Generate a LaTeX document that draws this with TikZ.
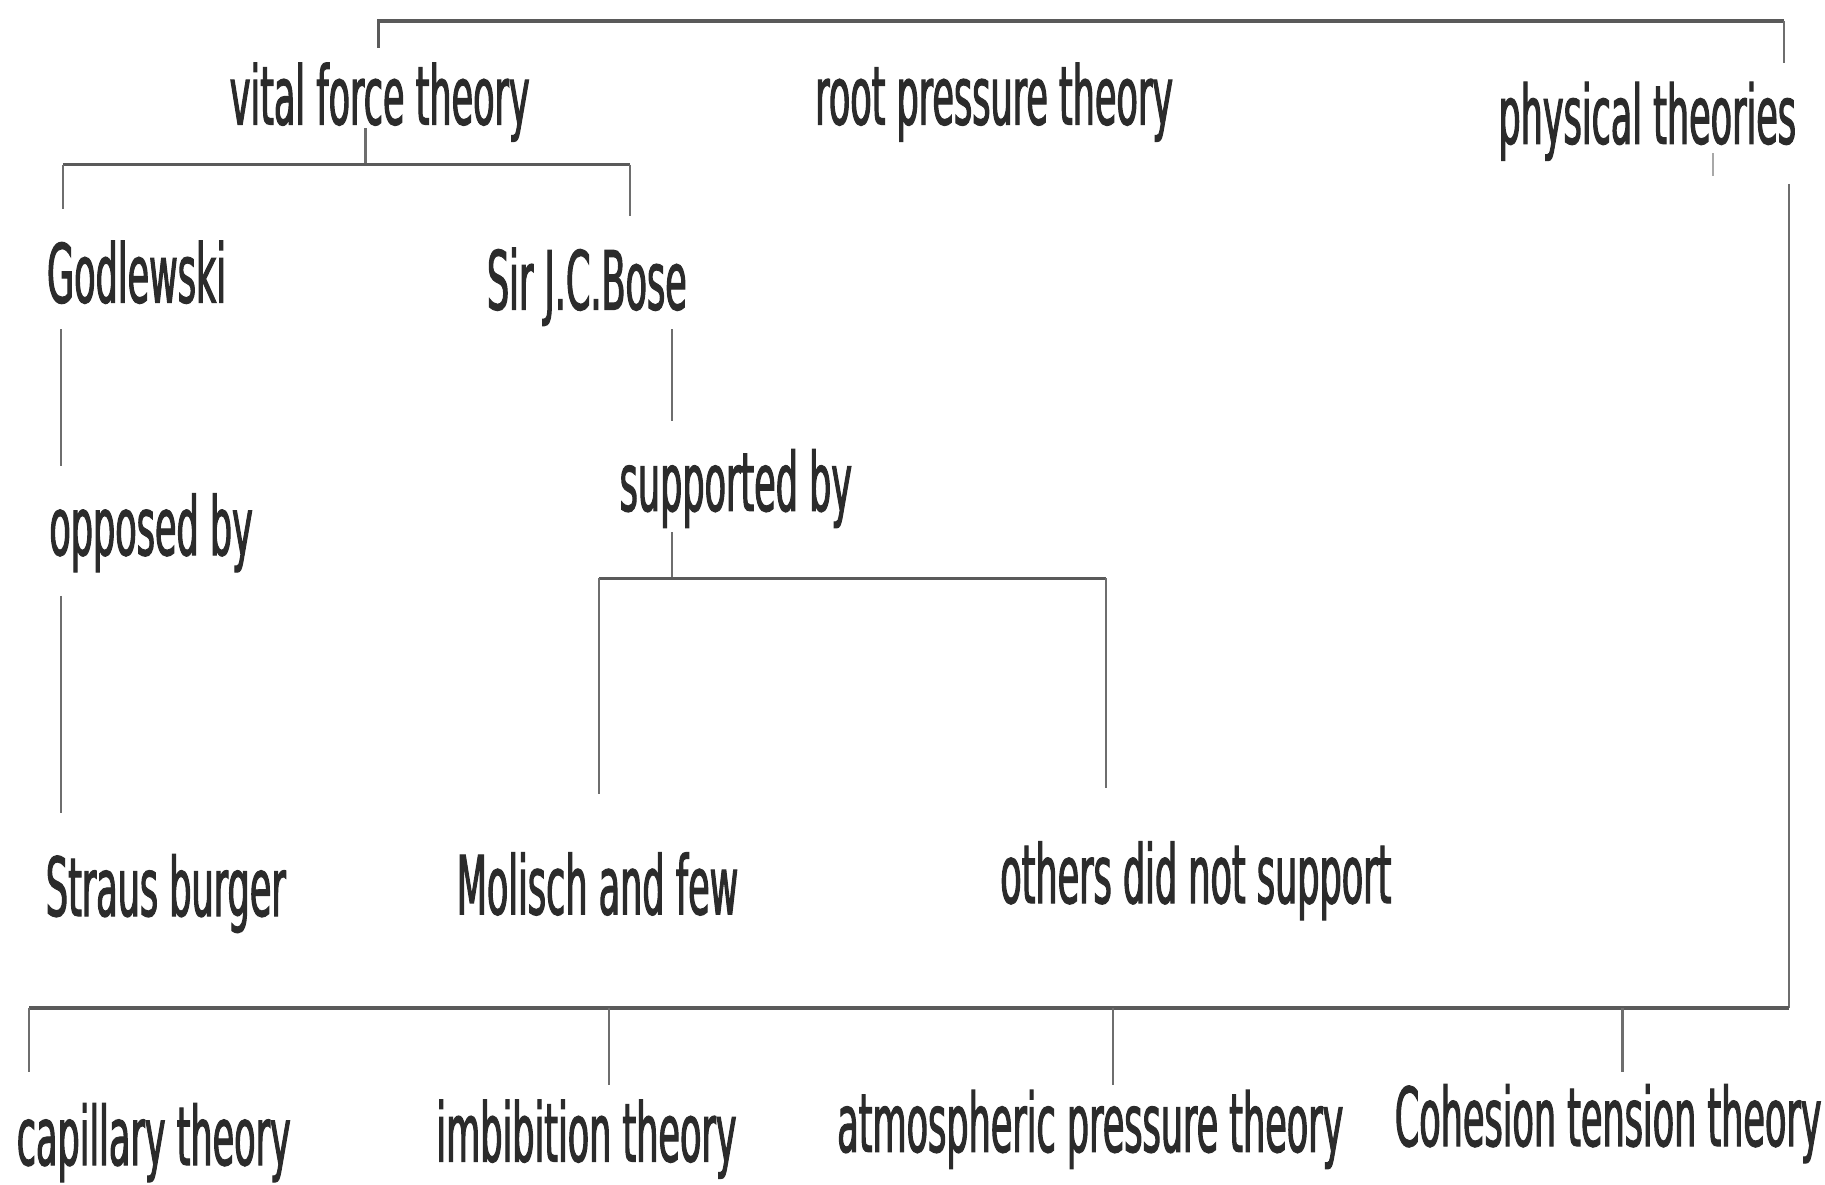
\documentclass[tikz,border=0pt]{standalone}
\usepackage{fontspec}
\newfontfamily\diafont{DejaVu Sans}[FakeStretch=0.43,FakeBold=1.3]
\definecolor{txtcol}{HTML}{2B2B2B}
\definecolor{linecol}{HTML}{5A5A5A}
\definecolor{thincol}{HTML}{6E6E6E}
\begin{document}
\begin{tikzpicture}[x=0.5pt,y=-0.5pt,
  lbl/.style={anchor=base west,inner sep=0pt,text=txtcol,
    font=\diafont\fontsize{35}{40}\selectfont},
  mainline/.style={draw=linecol,line width=1.4pt},
  subline/.style={draw=thincol,line width=0.9pt},
  faint/.style={draw=thincol!60,line width=0.6pt}]
\useasboundingbox[fill=white] (0,0) rectangle (1568,1018);

% text nodes
\node[lbl] (vft) at (197,107) {vital force theory};
\node[lbl] (rpt) at (700,107) {root pressure theory};
\node[lbl] (pht) at (1287,123.5) {physical theories};
\node[lbl] (god) at (40,260) {Godlewski};
\node[lbl] (bose) at (418,266) {Sir J.C.Bose};
\node[lbl] (opp) at (42,477) {opposed by};
\node[lbl] (sup) at (532,439) {supported by};
\node[lbl] (str) at (39,787) {Straus burger};
\node[lbl] (mol) at (392,785.6) {Molisch and few};
\node[lbl] (oth) at (859,776) {others did not support};
\node[lbl] (cap) at (14,1001) {capillary theory};
\node[lbl] (imb) at (374.6,998) {imbibition theory};
\node[lbl] (atm) at (719,989.7) {atmospheric pressure theory};
\node[lbl] (coh) at (1198,984.7) {Cohesion tension theory};

% connector end points
\coordinate (vftUp) at (325,41);
\coordinate (topL) at (325,18);
\coordinate (topR) at (1533,18);
\coordinate (phtUp) at (1533,54);
\coordinate (phtTickA) at (1471.6,131.6);
\coordinate (phtTickB) at (1471.6,151.5);
\coordinate (phtDown) at (1537,158);
\coordinate (botR) at (1537,866);
\coordinate (botL) at (25,866);
\coordinate (capUp) at (25,920.6);
\coordinate (imbJ) at (523,866);
\coordinate (imbUp) at (523,932);
\coordinate (atmJ) at (956,866);
\coordinate (atmUp) at (956,932);
\coordinate (cohJ) at (1394,866);
\coordinate (cohUp) at (1394,920.6);

\coordinate (vftDown) at (314,110);
\coordinate (vftJ) at (314,141.5);
\coordinate (godJ) at (54,141.5);
\coordinate (godUp) at (54,179.5);
\coordinate (boseJ) at (541,141.5);
\coordinate (boseUp) at (541,186);

\coordinate (godDown) at (52.4,283);
\coordinate (oppUp) at (52.4,400);
\coordinate (oppDown) at (52.4,512);
\coordinate (strUp) at (52.4,698.5);

\coordinate (boseDown) at (577,283);
\coordinate (supUp) at (577,362);
\coordinate (supDown) at (577,457.5);
\coordinate (supJ) at (577,497);
\coordinate (molJ) at (515,497);
\coordinate (molUp) at (515,682);
\coordinate (othJ) at (950,497);
\coordinate (othUp) at (950,677);

% connectors
\draw[mainline] (vftUp) -- (topL) -- (topR);
\draw[subline] (topR) -- (phtUp);
\draw[faint] (phtTickA) -- (phtTickB);
\draw[subline] (phtDown) -- (botR);
\draw[mainline] (botR) -- (botL);
\draw[subline] (botL) -- (capUp);
\draw[subline] (imbJ) -- (imbUp);
\draw[subline] (atmJ) -- (atmUp);
\draw[subline] (cohJ) -- (cohUp);

\draw[subline] (vftDown) -- (vftJ);
\draw[mainline] (godJ) -- (boseJ);
\draw[subline] (godJ) -- (godUp);
\draw[subline] (boseJ) -- (boseUp);

\draw[subline] (godDown) -- (oppUp);
\draw[subline] (oppDown) -- (strUp);

\draw[subline] (boseDown) -- (supUp);
\draw[subline] (supDown) -- (supJ);
\draw[mainline] (molJ) -- (othJ);
\draw[subline] (molJ) -- (molUp);
\draw[subline] (othJ) -- (othUp);
\end{tikzpicture}
\end{document}
